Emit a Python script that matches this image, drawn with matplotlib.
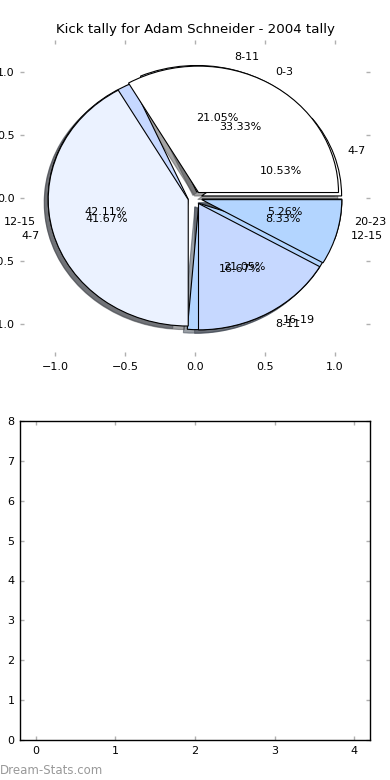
import numpy as np
from matplotlib import pyplot as plt

## DATA:
title = "Kick tally for Adam Schneider - 2004 tally"
labels_a = ["4-7", "8-11", "12-15", "16-19", "20-23"]
kicks_a = [2, 4, 8, 4, 1]
labels_b = ["0-3", "4-7", "8-11", "12-15"]
kicks_b = [4, 5, 2, 1]
pie_ticks = [-1.0, -0.5, 0.0, 0.5, 1.0]
## END DATA

colors = ["#ffffff", "#ebf2ff", "#c6d8ff", "#b3d5ff", "#a6c8ff"]
tick_grey = "#b0b0b0"

plt.rcParams["font.family"] = "DejaVu Sans"
plt.rcParams["font.size"] = 8

fig = plt.figure(figsize=(3.9, 7.8), dpi=100)

# top: two pies drawn over each other
ax1 = fig.add_axes([20/390, 1-356/780, 350/390, 316/780])
wp = {"edgecolor": "black", "linewidth": 0.8}
ax1.pie(kicks_a, labels=labels_a, colors=colors[:len(kicks_a)], autopct="%1.2f%%",
        explode=[0.05]*len(kicks_a), shadow=True, wedgeprops=wp,
        textprops={"fontsize": 8})
ax1.pie(kicks_b, labels=labels_b, colors=colors[:len(kicks_b)], autopct="%1.2f%%",
        explode=[0.05]*len(kicks_b), shadow=True, wedgeprops=wp,
        textprops={"fontsize": 8})
ax1.set_aspect("auto")
ax1.set_frame_on(False)
ax1.set_xlim(-1.25, 1.25)
ax1.set_ylim(-1.25, 1.25)
ax1.set_xticks(pie_ticks)
ax1.set_yticks(pie_ticks)
ax1.set_title(title, fontsize=9.6, pad=5)

# bottom: empty axes
ax2 = fig.add_axes([20/390, 40/780, 350/390, 319/780])
ax2.set_xlim(-0.2, 4.2)
ax2.set_ylim(0, 8)
ax2.set_xticks(range(0, 5))
ax2.set_yticks(range(0, 9))
for sp in ax2.spines.values():
    sp.set_linewidth(1.0)

for ax in (ax1, ax2):
    ax.tick_params(direction="in", length=3, width=1, color=tick_grey,
                   top=True, right=True, labelsize=8, pad=4)

# watermark
fig.text(0.0, 10/780, "Dream-Stats.com", color="#999999", fontsize=8.5,
         ha="left", va="center")

plt.savefig("out.png", dpi=100)
